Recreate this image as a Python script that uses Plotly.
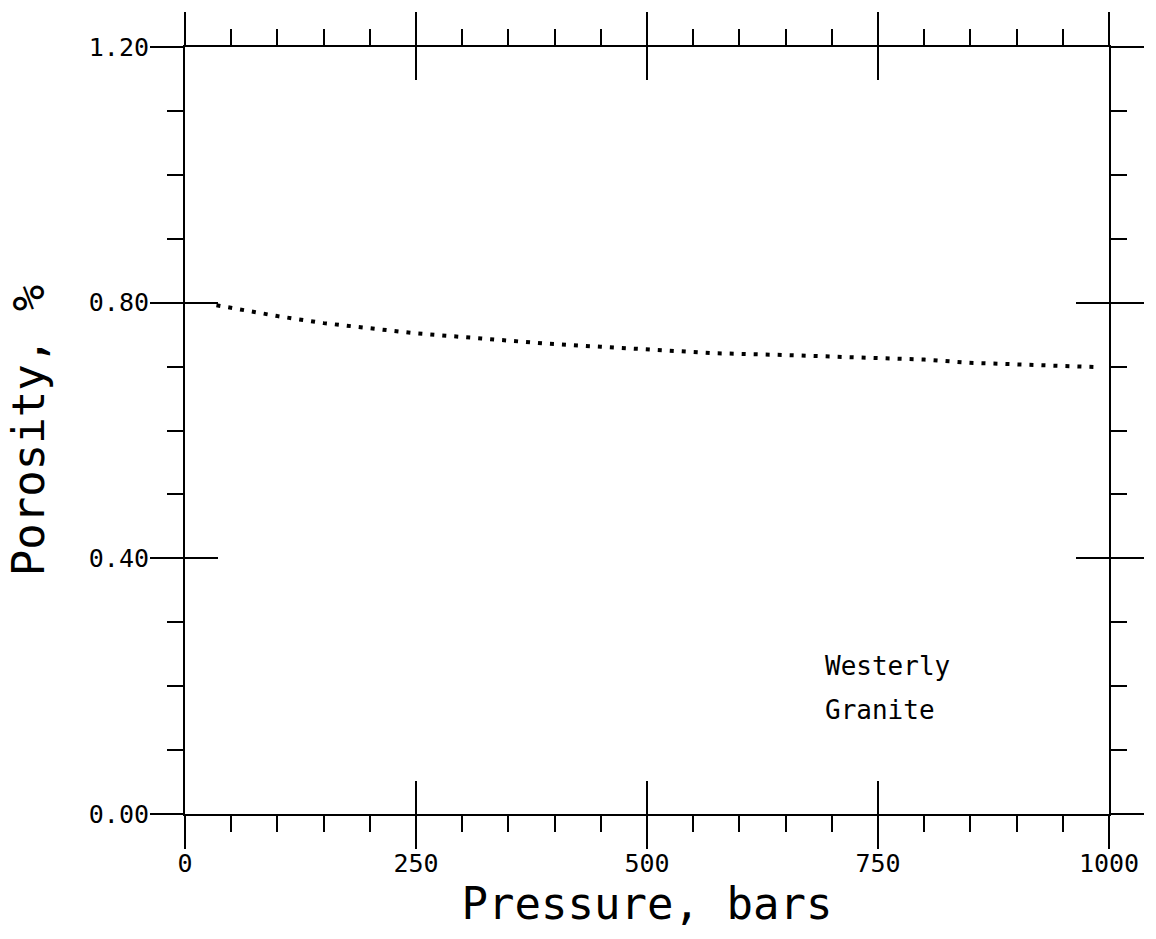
import plotly.graph_objects as go

# Data
pressure = [34, 60, 100, 150, 213, 250, 321, 390, 450, 500, 572, 650, 717, 800, 849, 900, 950, 990]
porosity = [0.796, 0.789, 0.779, 0.768, 0.757, 0.752, 0.744, 0.736, 0.731, 0.727,
            0.721, 0.718, 0.715, 0.711, 0.706, 0.704, 0.702, 0.699]

x_ticks = [0, 250, 500, 750, 1000]
x_labels = ["0", "250", "500", "750", "1000"]
y_ticks = [0.0, 0.4, 0.8, 1.2]
y_labels = ["0.00", "0.40", "0.80", "1.20"]

FONT = "DejaVu Sans Mono"

fig = go.Figure()
fig.add_trace(go.Scatter(x=pressure, y=porosity, mode="lines",
                         line=dict(color="black", width=4, dash="4px,8px"),
                         showlegend=False, hoverinfo="skip"))
fig.add_trace(go.Scatter(x=[], y=[], xaxis="x2", yaxis="y2", showlegend=False))

common = dict(showline=True, linecolor="black", linewidth=2, showgrid=False,
              zeroline=False, mirror="ticks", tickcolor="black", tickwidth=2)

fig.update_layout(
    width=1156, height=939,
    margin=dict(l=185, r=42, t=45, b=125),
    plot_bgcolor="white", paper_bgcolor="white",
    font=dict(family=FONT, color="black"),
    xaxis=dict(range=[0, 1000], tickvals=x_ticks, ticktext=x_labels,
               ticks="outside", ticklen=33, ticklabelstandoff=-7,
               minor=dict(dtick=50, tick0=0, ticks="outside", ticklen=16,
                          tickcolor="black", tickwidth=2),
               tickfont=dict(family=FONT, size=25),
               title=dict(text="Pressure, bars", font=dict(family=FONT, size=44), standoff=4),
               **common),
    yaxis=dict(range=[0, 1.2], tickvals=y_ticks, ticktext=y_labels,
               ticks="outside", ticklen=33, ticklabelstandoff=-4,
               minor=dict(dtick=0.1, tick0=0, ticks="outside", ticklen=16,
                          tickcolor="black", tickwidth=2),
               tickfont=dict(family=FONT, size=25),
               title=dict(text="Porosity, %", font=dict(family=FONT, size=44), standoff=30),
               **common),
    xaxis2=dict(range=[0, 1000], overlaying="x", anchor="y2", tickvals=x_ticks,
                ticks="inside", ticklen=33, showticklabels=False, **common),
    yaxis2=dict(range=[0, 1.2], overlaying="y", anchor="x2", tickvals=y_ticks,
                ticks="inside", ticklen=33, showticklabels=False, **common),
)

fig.add_annotation(x=690, y=0.232, text="Westerly", showarrow=False,
                   xanchor="left", yanchor="middle", font=dict(family=FONT, size=26))
fig.add_annotation(x=690, y=0.162, text="Granite", showarrow=False,
                   xanchor="left", yanchor="middle", font=dict(family=FONT, size=26))

fig.write_html("out.html")
